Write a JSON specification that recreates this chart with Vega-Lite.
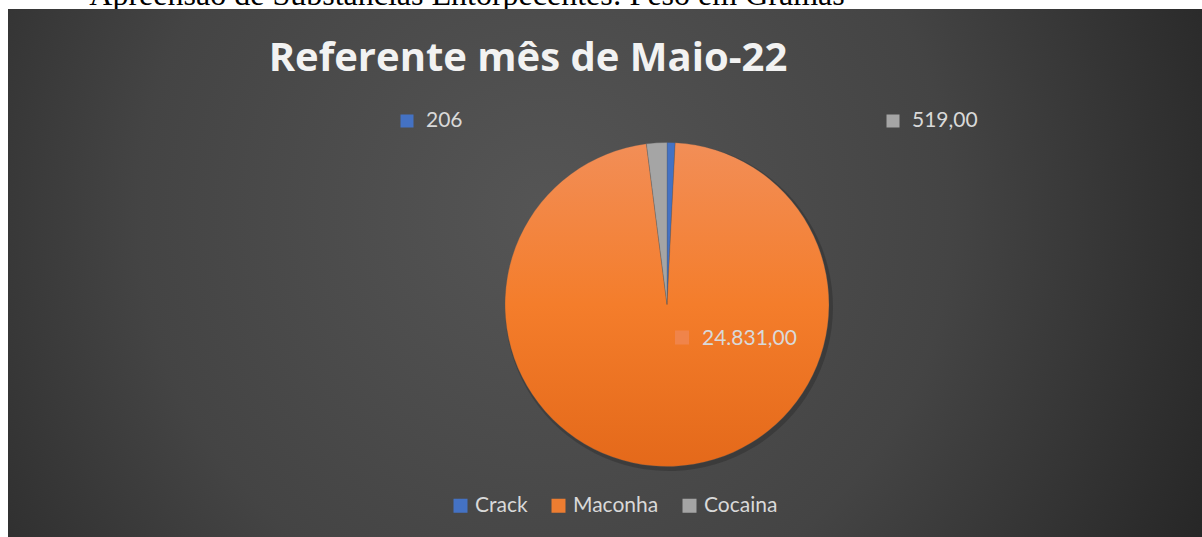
{
  "$schema": "https://vega.github.io/schema/vega-lite/v6.json",
  "autosize": "none",
  "width": 1194,
  "height": 528,
  "padding": {"left": 8, "top": 9, "right": 0, "bottom": 0},
  "background": "#ffffff",
  "config": {"view": {"stroke": null}},
  "data": {
    "values": [
      {"cat": "Crack", "value": 206, "label": "206", "ord": 1},
      {"cat": "Maconha", "value": 24831, "label": "24.831,00", "ord": 2},
      {"cat": "Cocaina", "value": 519, "label": "519,00", "ord": 3}
    ]
  },
  "layer": [
    {
      "data": {"values": [{"t": "Apreensão de Substâncias Entorpecentes: Peso em Gramas"}]},
      "mark": {
        "type": "text",
        "font": "Liberation Serif",
        "fontSize": 32,
        "color": "#000000",
        "align": "center",
        "baseline": "alphabetic",
        "dx": -138,
        "dy": -268
      },
      "encoding": {"text": {"field": "t"}}
    },
    {
      "data": {"values": [{"bg": 1}]},
      "mark": {
        "type": "rect",
        "color": {
          "gradient": "radial",
          "x1": 0.45, "y1": 0.45, "r1": 0,
          "x2": 0.45, "y2": 0.45, "r2": 0.62,
          "stops": [
            {"offset": 0, "color": "#555555"},
            {"offset": 0.55, "color": "#444444"},
            {"offset": 1, "color": "#262626"}
          ]
        }
      },
      "encoding": {}
    },
    {
      "data": {"values": [{"t": "Referente mês de Maio-22"}]},
      "mark": {
        "type": "text",
        "font": "Open Sans",
        "fontWeight": "bold",
        "fontSize": 40,
        "color": "#f2f2f2",
        "align": "center",
        "baseline": "alphabetic",
        "dx": -77,
        "dy": -202
      },
      "encoding": {"text": {"field": "t"}}
    },
    {
      "mark": {"type": "arc", "outerRadius": 164, "xOffset": 64, "yOffset": 34, "color": "#000000", "opacity": 0.18},
      "encoding": {
        "theta": {"field": "value", "type": "quantitative", "stack": true},
        "order": {"field": "ord", "type": "quantitative"}
      }
    },
    {
      "mark": {"type": "arc", "outerRadius": 162, "xOffset": 62, "yOffset": 31.5, "stroke": "#555555", "strokeWidth": 0.3},
      "encoding": {
        "theta": {"field": "value", "type": "quantitative", "stack": true},
        "order": {"field": "ord", "type": "quantitative"},
        "color": {
          "condition": {
            "test": "datum.cat === 'Maconha'",
            "value": {
              "gradient": "linear",
              "x1": 0.5, "y1": 0, "x2": 0.5, "y2": 1,
              "stops": [
                {"offset": 0, "color": "#F28E57"},
                {"offset": 0.5, "color": "#F47D2B"},
                {"offset": 1, "color": "#E4691A"}
              ]
            }
          },
          "field": "cat",
          "type": "nominal",
          "scale": {"domain": ["Crack", "Maconha", "Cocaina"], "range": ["#4472C4", "#ED7D31", "#A5A5A5"]},
          "legend": {
            "orient": "none",
            "legendX": 442,
            "legendY": 486,
            "direction": "horizontal",
            "title": null,
            "symbolType": "square",
            "symbolSize": 196,
            "symbolStrokeWidth": 0,
            "labelFont": "Lato",
            "labelFontSize": 21,
            "labelColor": "#d9d9d9",
            "labelOffset": 4,
            "columnPadding": 20,
            "padding": 0
          }
        }
      }
    },
    {
      "transform": [{"filter": "datum.cat === 'Crack'"}],
      "mark": {"type": "point", "shape": "square", "size": 169, "filled": true, "opacity": 1, "color": "#4472C4", "xOffset": -198, "yOffset": -152},
      "encoding": {}
    },
    {
      "transform": [{"filter": "datum.cat === 'Crack'"}],
      "mark": {"type": "text", "font": "Lato", "fontSize": 21, "color": "#d9d9d9", "align": "left", "baseline": "middle", "xOffset": 62, "yOffset": 31.5, "dx": -241, "dy": -183.5},
      "encoding": {"text": {"field": "label"}}
    },
    {
      "transform": [{"filter": "datum.cat === 'Cocaina'"}],
      "mark": {"type": "point", "shape": "square", "size": 169, "filled": true, "opacity": 1, "color": "#A5A5A5", "xOffset": 288, "yOffset": -152},
      "encoding": {}
    },
    {
      "transform": [{"filter": "datum.cat === 'Cocaina'"}],
      "mark": {"type": "text", "font": "Lato", "fontSize": 21, "color": "#d9d9d9", "align": "left", "baseline": "middle", "xOffset": 62, "yOffset": 31.5, "dx": 245, "dy": -183.5},
      "encoding": {"text": {"field": "label"}}
    },
    {
      "transform": [{"filter": "datum.cat === 'Maconha'"}],
      "mark": {"type": "point", "shape": "square", "size": 196, "filled": true, "opacity": 1, "color": "#F0844A", "xOffset": 77, "yOffset": 64.5},
      "encoding": {}
    },
    {
      "transform": [{"filter": "datum.cat === 'Maconha'"}],
      "mark": {"type": "text", "font": "Lato", "fontSize": 21, "color": "#d9d9d9", "align": "left", "baseline": "middle", "xOffset": 62, "yOffset": 31.5, "dx": 35, "dy": 34},
      "encoding": {"text": {"field": "label"}}
    }
  ]
}
